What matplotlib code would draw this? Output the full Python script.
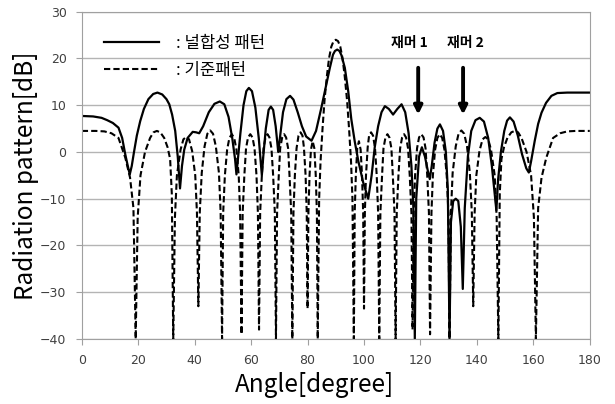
import matplotlib
matplotlib.use("Agg")
import matplotlib.pyplot as plt

plt.rcParams['font.family'] = ['Noto Sans CJK KR', 'DejaVu Sans']

# 널합성 패턴 (solid)
angle_solid = [0, 4, 7, 9, 11, 13, 14.3, 15.4, 16.3, 17, 17.7, 18.5, 19.5, 20.7, 22, 23.6, 25.3, 26.8,
               28.5, 30, 31, 32, 33.1, 34, 34.8, 35.5, 36.3, 37.5, 39.3, 40.5, 41.6, 43, 45, 47, 48.9,
               50.5, 52, 53.3, 54.3, 54.8, 55.4, 56.2, 57.3, 58.3, 59.2, 60.3, 61.5, 62.7, 63.4, 63.8,
               64.3, 65.2, 66.2, 67, 67.8, 68.7, 69.6, 70.3, 71.3, 72.5, 73.8, 75, 76.5, 78, 79.5,
               81.4, 83, 84.9, 86.5, 87.9, 89, 89.7, 90.5, 91.3, 92, 93.2, 94.4, 95.5, 96.7, 98, 99.7,
               101.5, 102.7, 103.8, 105, 106.2, 107.4, 108.8, 110.3, 111.8, 113.3, 114.6, 115.8, 116.8,
               117.5, 118, 118.5, 119.5, 120.5, 121.6, 122.6, 123.3, 124, 125, 126, 126.9, 128, 129,
               129.7, 130.3, 130.8, 131.6, 132.5, 133.4, 134.3, 135, 135.7, 136.8, 138, 139.5, 141,
               142.5, 144, 145.3, 146.3, 146.9, 147.5, 148.5, 149.7, 150.7, 151.7, 153, 154.5, 156,
               157.5, 158.4, 159.2, 160.5, 161.7, 162.9, 164.5, 166.4, 168.5, 172, 180]
db_solid = [7.7, 7.6, 7.3, 6.8, 6.2, 5.2, 3, -0.5, -3, -4.8, -3, 0, 3.5, 6.6, 9.2, 11.3, 12.4, 12.7,
            12.3, 11.3, 10.2, 8, 4.5, -1, -7.8, -3, 0.5, 3, 4.3, 4.2, 4.0, 5.5, 8.5, 10.3, 10.8,
            10.2, 7.5, 3, -1.5, -4.8, -1, 4, 10, 13, 13.7, 13, 9.5, 3, -2, -5,
            -1, 5, 9, 9.7, 9, 5.5, 0, 3.5, 8.5, 11.3, 12, 11.2, 8.5, 5.5, 3.3,
            2.4, 4.5, 9.5, 14, 18, 20.8, 21.6, 21.9, 21.6, 20.7, 18, 13, 7, 2.3, -2, -6.5,
            -10, -5, 1, 5.5, 8.5, 9.8, 9.2, 8, 9.2, 10.2, 8.5, 4, -3,
            -12, -40, -10, -1, 1, -1, -4, -5.8, -3, 2, 5, 5.9, 4.5, 0,
            -8, -40, -15, -10.5, -10, -10.5, -16, -29.3, -12, -1, 4.5, 6.8, 7.3,
            6.5, 3, -3, -9, -12.5, -6, 0, 4.5, 6.7, 7.4, 6.5, 3.5, -0.5,
            -3.5, -4.4, -2, 2.4, 6, 8.4, 10.5, 12, 12.6, 12.7, 12.7]

# 기준패턴 (dashed)
angle_ref = [0, 5, 8, 10.5, 13, 15.4, 17.1, 18.3, 19.1,
             19.8, 20.8, 22.4, 24.2, 25.4, 26.6, 27.8, 29.2, 30.4, 31.3, 31.9, 32.4,
             33.0, 33.7, 35, 36, 37, 38, 39.1, 40.2, 40.8, 41.3,
             41.8, 42.5, 43.5, 44.5, 45.5, 46.5, 47.5, 48.6, 49.2, 49.7,
             50.1, 50.7, 51.5, 52.3, 53.15, 54, 54.8, 55.6, 56.1, 56.6,
             57.0, 57.6, 58.2, 58.9, 59.7, 60.5, 61.2, 61.9, 62.4, 62.8,
             63.2, 63.8, 64.4, 65.1, 65.8, 66.5, 67.2, 67.8, 68.4, 68.8,
             69.2, 69.8, 70.3, 71, 71.7, 72.4, 73.1, 73.6, 74.2, 74.6,
             75, 75.5, 76.1, 76.8, 77.5, 78.2, 78.7, 79.3, 79.7, 80,
             80.3, 80.7, 81.2, 81.8, 82.4, 82.9, 83.3, 83.6,
             84.1, 84.6, 85.3, 86, 86.8, 87.6, 88.4, 89.2, 90,
             90.8, 91.6, 92.4, 93.2, 94, 94.7, 95.4, 95.9, 96.4,
             96.7, 97.1, 97.6, 98.2, 98.8, 99.3, 99.7, 100,
             100.3, 100.7, 101.3, 101.8, 102.5, 103.2, 103.9, 104.5, 105, 105.4,
             105.8, 106.4, 106.9, 107.6, 108.3, 109, 109.7, 110.2, 110.8, 111.2,
             111.6, 112.2, 112.8, 113.5, 114.2, 114.9, 115.6, 116.2, 116.8, 117.2,
             117.6, 118.1, 118.8, 119.5, 120.3, 121.1, 121.8, 122.4, 123, 123.4,
             123.9, 124.4, 125.2, 126, 126.85, 127.7, 128.5, 129.3, 129.9, 130.3,
             130.8, 131.4, 132.5, 133.5, 134.5, 135.5, 136.5, 137.5, 138.2, 138.7,
             139.2, 139.8, 140.9, 142, 143, 144, 145, 146.3, 147, 147.6,
             148.1, 148.7, 149.6, 150.8, 152.2, 153.4, 154.6, 155.8, 157.6, 159.2, 160.2, 160.9,
             161.7, 162.9, 164.6, 167, 169.5, 172, 175, 180]
db_ref = [4.5, 4.5, 4.4, 4.0, 3.0, -1.2, -5.5, -12, -40,
          -14, -5, 0, 3, 4.2, 4.5, 4.2, 3, 1, -1.5, -9, -40,
          -14, -5, 0.5, 2.7, 3.2, 2.7, 0.2, -5, -13, -33,
          -13, -4.5, 1.2, 3.9, 4.6, 3.9, 1.2, -4.5, -13, -40,
          -13, -5, 0.5, 3, 3.8, 3, 0.5, -5, -13, -39,
          -13, -5, 0.8, 3.1, 3.8, 3.1, 0.8, -5, -13, -38,
          -13, -5, 0.8, 3.1, 3.8, 3.1, 0.8, -5, -13, -40,
          -13, -5, 0.8, 3.1, 3.8, 3.1, 0.8, -5, -13, -40,
          -13, -5, 0.8, 3.5, 4.2, 3.5, 1, -5, -13, -33.5,
          -13, -5, 0.5, 2.3, 0.8, -5, -13, -40,
          -10, -2, 5, 11, 16, 20, 22.5, 23.7, 24,
          23.7, 22.5, 20, 16, 11, 5, -2, -10, -40,
          -13, -5, 0.8, 2.3, 0.5, -5, -13, -33.5,
          -13, -5, 1, 3.5, 4.2, 3.5, 0.8, -5, -13, -40,
          -13, -5, 0.8, 3.1, 3.8, 3.1, 0.8, -5, -13, -40,
          -13, -5, 0.8, 3.1, 3.8, 3.1, 0.8, -5, -13, -38,
          -13, -5, 0.8, 3.1, 3.8, 3.1, 0.8, -5, -13, -39,
          -13, -5, 0.5, 3, 3.8, 3, 0.5, -5, -13, -40,
          -13, -4.5, 1.2, 3.9, 4.6, 3.9, 1.2, -4.5, -13, -33,
          -13, -5, 0.2, 2.7, 3.2, 2.7, 0.5, -5, -14, -40,
          -9, -1.5, 1, 3, 4.2, 4.5, 4.2, 3, 0, -5, -14, -40,
          -12, -5.5, -1.2, 3, 4, 4.4, 4.5, 4.5]

x_ticks = [0, 20, 40, 60, 80, 100, 120, 140, 160, 180]
y_ticks = [-40, -30, -20, -10, 0, 10, 20, 30]
jammer_names = ['재머 1', '재머 2']
jammer_angles = [119.2, 135.1]

fig = plt.figure(figsize=(6.15, 4.04), dpi=100)
ax = fig.add_axes([0.133, 0.161, 0.826, 0.81])

ax.plot(angle_solid, db_solid, color='black', lw=1.6, label=': 널합성 패턴')
ax.plot(angle_ref, db_ref, color='black', lw=1.5, ls=(0, (3, 1.5)), label=': 기준패턴')

ax.set_xlim(0, 180)
ax.set_ylim(-40, 30)
ax.set_xticks(x_ticks)
ax.set_yticks(y_ticks)
ax.yaxis.grid(True, color='#b4b4b4', lw=1)
ax.set_axisbelow(True)
for s in ax.spines.values():
    s.set_color('#a0a0a0')
ax.tick_params(axis='both', colors='#a0a0a0', labelcolor='#404040', labelsize=9,
               direction='out', length=4, pad=7)
for lab in ax.get_xticklabels() + ax.get_yticklabels():
    lab.set_fontfamily('DejaVu Sans')

ax.set_xlabel('Angle[degree]', fontsize=17.5)
ax.xaxis.set_label_coords(0.459, -0.1)
ax.set_ylabel('Radiation pattern[dB]', fontsize=17.5, labelpad=1)

leg = ax.legend(loc='upper left', bbox_to_anchor=(0.015, 0.975), frameon=False, fontsize=12,
                handlelength=3.3, handletextpad=1.0, labelspacing=0.6)

# 재머 arrows
ax.text(116.2, 23.4, jammer_names[0], fontsize=10, fontweight='bold', ha='center', va='center')
ax.text(136.0, 23.4, jammer_names[1], fontsize=10, fontweight='bold', ha='center', va='center')
for a in jammer_angles:
    ax.annotate('', xy=(a, 7.4), xytext=(a, 18.6),
                arrowprops=dict(arrowstyle='-|>', color='black', lw=2.8, mutation_scale=12))

fig.savefig('out.png', dpi=100)
